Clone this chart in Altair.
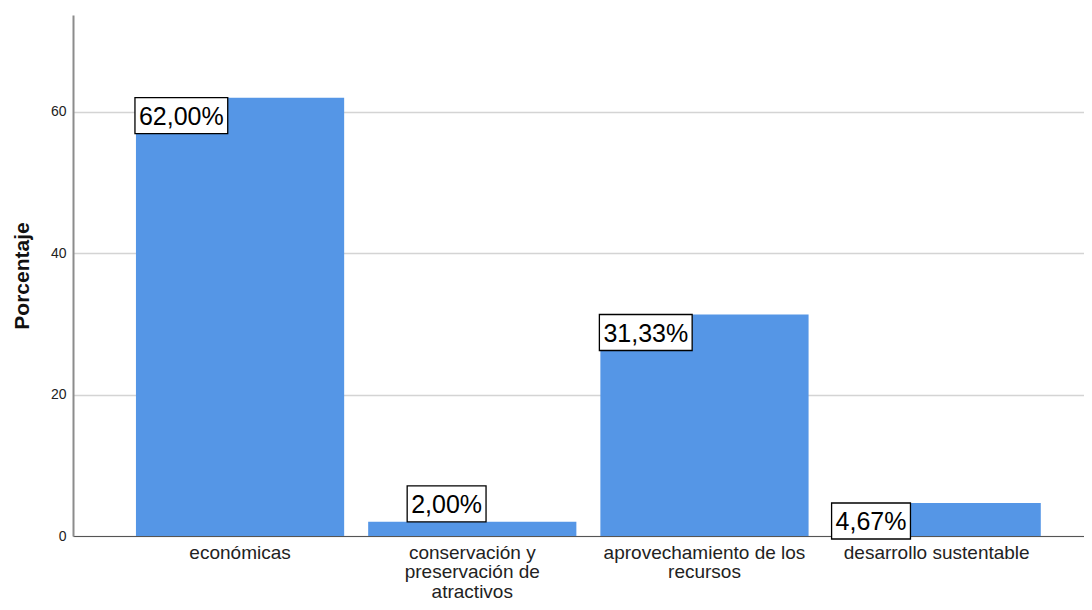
import altair as alt
import pandas as pd

categories = [
    "económicas",
    "conservación y\npreservación de\natractivos",
    "aprovechamiento de los\nrecursos",
    "desarrollo sustentable",
]
values = [62.00, 2.00, 31.33, 4.67]
labels = ["62,00%", "2,00%", "31,33%", "4,67%"]

FONT = "Liberation Sans"
LABEL_SIZE = 25
BOX_H = 36
SCALE = 50.0  # custom symbol scale: sqrt(size)/2 with size=10000

# Liberation Sans (Arial metric) advance widths in em
CHAR_W = {",": 0.278, "%": 0.889}


def text_width(s):
    return sum(CHAR_W.get(c, 0.556) for c in s) * LABEL_SIZE


rows = []
for c, v, l in zip(categories, values, labels):
    w = text_width(l) + 8
    above = v < 3
    left = 39 if above else -1
    top = -BOX_H if above else 0
    bottom = 0 if above else BOX_H
    path = "M{a},{b} L{c},{b} L{c},{d} L{a},{d} Z".format(
        a=left / SCALE, b=top / SCALE, c=(left + w) / SCALE, d=bottom / SCALE
    )
    rows.append({"cat": c, "val": v, "label": l, "path": path, "above": above})

df = pd.DataFrame(rows)

x_scale = alt.Scale(paddingInner=0.1034, paddingOuter=0.2286, align=0.593)
x_axis = alt.Axis(
    title=None,
    labelExpr="split(datum.label, '\\n')",
    labelAngle=0,
    labelFont=FONT,
    labelFontSize=19,
    labelLineHeight=19.5,
    labelColor="#222222",
    labelPadding=7,
    labelLimit=0,
    ticks=False,
    domainColor="#555555",
    domainWidth=1.2,
    labelBaseline="top",
)

x_enc = alt.X("cat:N", sort=categories, bandPosition=0, scale=x_scale, axis=x_axis)

y_scale = alt.Scale(domain=[0, 73.7], nice=False)

bars = alt.Chart(df).mark_bar(color="#5596E6").encode(
    x=alt.X("cat:N", sort=categories, scale=x_scale, axis=x_axis),
    y=alt.Y(
        "val:Q",
        scale=y_scale,
        axis=alt.Axis(
            title="Porcentaje",
            titleFont=FONT,
            titleFontSize=21,
            titleFontWeight="bold",
            titleColor="#111111",
            titlePadding=18,
            values=[0, 20, 40, 60],
            labelFont=FONT,
            labelFontSize=14,
            labelColor="#222222",
            labelPadding=7,
            ticks=False,
            grid=True,
            gridColor="#d4d4d4",
            gridWidth=1.5,
            domainColor="#8c8c8c",
            domainWidth=2,
        ),
    ),
)

boxes = alt.Chart(df).mark_point(
    filled=True, fill="white", stroke="black", strokeWidth=1.3, opacity=1, size=10000
).encode(
    x=x_enc,
    y=alt.Y("val:Q", scale=y_scale),
    shape=alt.Shape("path:N", scale=None),
)

text_inside = alt.Chart(df).transform_filter("!datum.above").mark_text(
    align="left", baseline="middle", dx=3, dy=BOX_H / 2 + 1,
    font=FONT, fontSize=LABEL_SIZE, color="black",
).encode(x=x_enc, y=alt.Y("val:Q", scale=y_scale), text="label:N")

text_above = alt.Chart(df).transform_filter("datum.above").mark_text(
    align="left", baseline="middle", dx=39 + 4, dy=-BOX_H / 2 + 1,
    font=FONT, fontSize=LABEL_SIZE, color="black",
).encode(x=x_enc, y=alt.Y("val:Q", scale=y_scale), text="label:N")

chart = alt.layer(bars, boxes, text_inside, text_above).properties(
    width=1011,
    height=521,
    autosize=alt.AutoSizeParams(type="none"),
    padding={"left": 65, "top": 7, "right": 0, "bottom": 66},
).configure_view(stroke=None)

chart.save("out.html", embed_options={"renderer": "svg", "actions": False})
